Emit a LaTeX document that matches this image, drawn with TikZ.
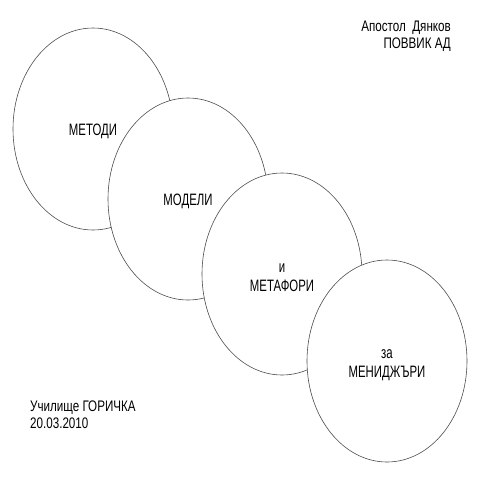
\documentclass[tikz,border=0pt]{standalone}
\usepackage{fontspec}
\setmainfont{Liberation Sans}[FakeStretch=0.76]
\newfontfamily\ovalfont{Liberation Sans}[FakeStretch=0.69]
\usetikzlibrary{shapes.geometric}
\begin{document}
\begin{tikzpicture}[x=1pt,y=-1pt,
  oval/.style={ellipse,draw=black!70,line width=0.6pt,fill=white,inner sep=0pt,
    minimum width=160pt,minimum height=202pt},
  ovaltext/.style={inner sep=0pt,align=center,
    font=\ovalfont\fontsize{16.5}{19}\selectfont},
  label/.style={inner sep=0pt,font=\fontsize{15.3}{17}\selectfont}]
\useasboundingbox (0,0) rectangle (480,480);
\node[oval] (e1) at (93,129) {};
\node[ovaltext] (t1) at ([yshift=-2pt]e1.center) {МЕТОДИ};
\node[oval] (e2) at (188,199) {};
\node[ovaltext] (t2) at ([yshift=-2.5pt]e2.center) {МОДЕЛИ};
\node[oval] (e3) at (282,274) {};
\node[ovaltext] (t3) at ([yshift=-4pt]e3.center) {и\\МЕТАФОРИ};
\node[oval] (e4) at (387,361) {};
\node[ovaltext] (t4) at ([yshift=-4.5pt]e4.center) {за\\МЕНИДЖЪРИ};
\node[label,anchor=base east,align=right] (author) at (451,48) {Апостол\ \ Дянков\\ПОВВИК АД};
\node[label,anchor=base west,align=left] (school) at (30,428) {Училище ГОРИЧКА\\20.03.2010};
\end{tikzpicture}
\end{document}
